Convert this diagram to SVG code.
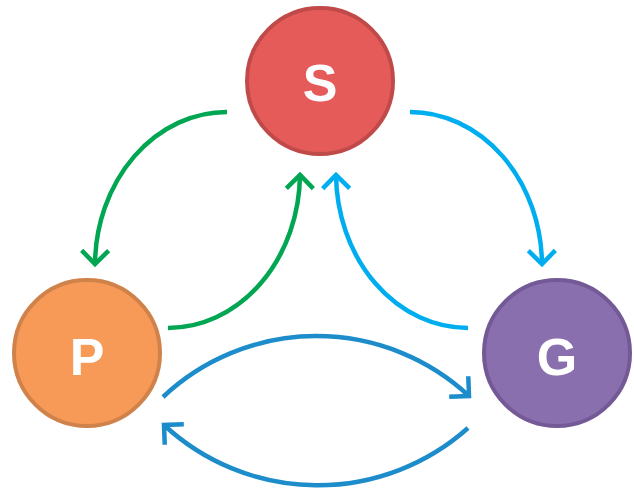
<svg xmlns="http://www.w3.org/2000/svg" width="634" height="488" viewBox="0 0 634 488">
<style>
.node circle{stroke-width:4}
.node text{font-family:"Liberation Sans",Arial,sans-serif;font-weight:bold;font-size:52px;fill:#fff;text-anchor:middle;dominant-baseline:central}
.conn path{fill:none;stroke-width:4.5}
.g{stroke:#00A651}
.c{stroke:#00AEEF}
.b{stroke:#1C8CCB}
</style>
<defs>
<marker id="mg" markerUnits="userSpaceOnUse" orient="auto" markerWidth="40" markerHeight="40" refX="0" refY="0" viewBox="-20 -20 40 40" overflow="visible"><path d="M-13.5,-13.5 L0,0 L-13.5,13.5" fill="none" stroke="#00A651" stroke-width="4.5"/></marker>
<marker id="mc" markerUnits="userSpaceOnUse" orient="auto" markerWidth="40" markerHeight="40" refX="0" refY="0" viewBox="-20 -20 40 40" overflow="visible"><path d="M-13.5,-13.5 L0,0 L-13.5,13.5" fill="none" stroke="#00AEEF" stroke-width="4.5"/></marker>
<marker id="mb" markerUnits="userSpaceOnUse" orient="auto" markerWidth="40" markerHeight="40" refX="0" refY="0" viewBox="-20 -20 40 40" overflow="visible"><path d="M-14,-14 L0,0 L-14,14" fill="none" stroke="#1C8CCB" stroke-width="4.5"/></marker>
</defs>
<g id="connectors" class="conn">
<path class="g" d="M227,112 A132,154 0 0 0 95,264" marker-end="url(#mg)"/>
<path class="g" d="M168,328 A132,155 0 0 0 300,175" marker-end="url(#mg)"/>
<path class="c" d="M410,112 A132,154 0 0 1 542,264" marker-end="url(#mc)"/>
<path class="c" d="M468,328 A132,155 0 0 1 336,175" marker-end="url(#mc)"/>
<path class="b" d="M163,397 A224,224 0 0 1 469,396" marker-end="url(#mb)"/>
<path class="b" d="M468,428 A226,226 0 0 1 164,425" marker-end="url(#mb)"/>
</g>
<g id="node-S" class="node"><circle cx="320" cy="81" r="73" fill="#E55B5A" stroke="#C04A4A"/><text x="320" y="83">S</text></g>
<g id="node-P" class="node"><circle cx="87" cy="353" r="73" fill="#F79A58" stroke="#D0824B"/><text x="87" y="357">P</text></g>
<g id="node-G" class="node"><circle cx="557" cy="353" r="73" fill="#8A6FAF" stroke="#735A96"/><text x="557" y="357">G</text></g>
</svg>
